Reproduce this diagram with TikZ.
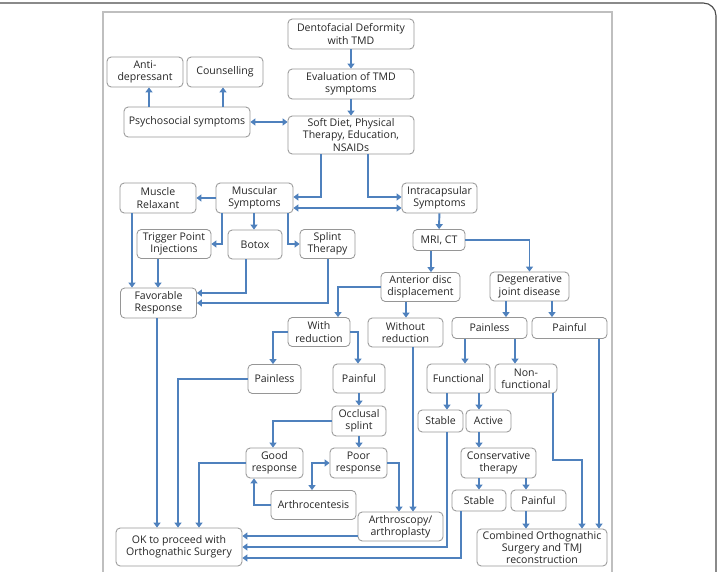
\documentclass[tikz,border=0pt]{standalone}
\usepackage{fontspec}
\setmainfont{Open Sans}
\usetikzlibrary{arrows.meta}
\definecolor{flow}{RGB}{79,129,189}
\definecolor{boxline}{RGB}{150,150,150}

\begin{document}
\begin{tikzpicture}[x=0.025cm,y=-0.025cm,
	box/.style={draw=boxline,line width=0.6pt,rounded corners=3pt,align=center,inner sep=1pt,font=\fontsize{7.5}{8.8}\selectfont,text=black!85},
	bx/.style 2 args={box,minimum width=#1*0.025cm,minimum height=#2*0.025cm},
	arr/.style={draw=flow,line width=1.4pt,-{Triangle[length=3.5pt,width=5pt]}},
	arrs/.style={draw=flow,line width=1.4pt,{Triangle[length=3.5pt,width=5pt]}-{Triangle[length=3.5pt,width=5pt]}}]
	\useasboundingbox (0,0) rectangle (718,572);
	% frame
	\draw[black!70,line width=0.8pt,rounded corners=9pt] (0,3) -- (716,3) -- (716,574);
	\draw[black!25,line width=1pt] (103,574) -- (103,12) -- (612,12) -- (612,574);
	% boxes
	\node[bx={126}{30}] (DFD) at (351,34) {Dentofacial Deformity\\with TMD};
	\node[bx={76}{30}] (AntiD) at (145,72) {Anti-\\depressant};
	\node[bx={76}{30}] (Couns) at (225,72) {Counselling};
	\node[bx={126}{30}] (Eval) at (351,84) {Evaluation of TMD\\symptoms};
	\node[bx={126}{30}] (Psy) at (187,122) {Psychosocial symptoms};
	\node[bx={126}{38}] (Soft) at (351,135) {Soft Diet, Physical\\Therapy, Education,\\NSAIDs};
	\node[bx={76}{30}] (MusR) at (158,198) {Muscle\\Relaxant};
	\node[bx={77}{30}] (MusS) at (254.5,198) {Muscular\\Symptoms};
	\node[bx={75}{30}] (Intra) at (439.5,198) {Intracapsular\\Symptoms};
	\node[bx={74}{29}] (TPI) at (174,244) {Trigger Point\\Injections};
	\node[bx={54}{29}] (Btx) at (255,244.5) {Botox};
	\node[bx={55}{29}] (Splt) at (327.5,244) {Splint\\Therapy};
	\node[bx={52}{21}] (MRI) at (439,240) {MRI, CT};
	\node[bx={76}{30}] (Fav) at (158.5,303) {Favorable\\Response};
	\node[bx={79}{29}] (ADD) at (420.5,287) {Anterior disc\\displacement};
	\node[bx={79}{29}] (DJD) at (529.5,286.5) {Degenerative\\joint disease};
	\node[bx={62}{29}] (WiR) at (319,332) {With\\reduction};
	\node[bx={75}{29}] (WoR) at (405.5,332.5) {Without\\reduction};
	\node[bx={75}{21}] (PlsD) at (489.5,328) {Painless};
	\node[bx={75}{21}] (PflD) at (569.5,328) {Painful};
	\node[bx={53}{29}] (PlsA) at (274.5,379) {Painless};
	\node[bx={52}{29}] (PflA) at (359,378.5) {Painful};
	\node[bx={63}{29}] (Func) at (458.5,378.5) {Functional};
	\node[bx={62}{29}] (NonF) at (526,378.5) {Non-\\functional};
	\node[bx={54}{30}] (Occl) at (359,421) {Occlusal\\splint};
	\node[bx={45}{22}] (StbA) at (440.5,421) {Stable};
	\node[bx={45}{22}] (Actv) at (488.5,421) {Active};
	\node[bx={57}{30}] (Good) at (274.5,463) {Good\\response};
	\node[bx={57}{30}] (Poor) at (358.5,463) {Poor\\response};
	\node[bx={75}{30}] (Cons) at (498.5,463) {Conservative\\therapy};
	\node[bx={85}{29}] (Acen) at (313.5,505) {Arthrocentesis};
	\node[bx={54}{21}] (StbB) at (479,500.5) {Stable};
	\node[bx={55}{21}] (PflB) at (538.5,500.5) {Painful};
	\node[bx={85}{29}] (Ascp) at (400.5,526.5) {Arthroscopy/\\arthroplasty};
	\node[bx={126}{38}] (OK) at (179,547) {OK to proceed with\\Orthognathic Surgery};
	\node[bx={130}{37}] (Comb) at (542,547.5) {Combined Orthognathic\\Surgery and TMJ\\reconstruction};
	% top part
	\draw[arr] (DFD) -- (Eval);
	\draw[arr] (Eval) -- (Soft);
	\draw[arrs] (Psy.east) -- (Psy.east -| Soft.west);
	\draw[arr] (Psy.north -| 149,0) -- (AntiD.south -| 149,0);
	\draw[arr] (Psy.north -| 223,0) -- (Couns.south -| 223,0);
	\draw[arr] (Soft.south -| 321,0) |- (MusS.east |- 0,197);
	\draw[arr] (Soft.south -| 368,0) |- (Intra.west |- 0,197);
	% muscular branch
	\draw[arr] (MusS.west) -- (MusR.east);
	\draw[arrs] (MusS.east |- 0,208) -- (Intra.west |- 0,208);
	\draw[arr] (MusS.south -| 222,0) |- (TPI.east);
	\draw[arr] (MusS.south -| 254,0) -- (Btx.north -| 254,0);
	\draw[arr] (MusS.south -| 288,0) |- (Splt.west);
	\draw[arr] (MusR.south -| 132,0) -- (Fav.north -| 132,0);
	\draw[arr] (TPI.south -| 158,0) -- (Fav.north -| 158,0);
	\draw[arr] (Btx.south -| 246,0) |- (Fav.east |- 0,293);
	\draw[arr] (Splt.south -| 328,0) |- (Fav.east);
	\draw[arr] (Fav.south -| 157,0) -- (OK.north -| 157,0);
	% intracapsular branch
	\draw[arr] (Intra) -- (MRI);
	\draw[arr] (MRI.south -| 431,0) -- (ADD.north -| 431,0);
	\draw[arr] (MRI.east) -| (DJD.north);
	\draw[arr] (ADD.west) -| (WiR.north -| 338,0);
	\draw[arr] (ADD.south -| 406,0) -- (WoR.north -| 406,0);
	\draw[arr] (WiR.west) -| (PlsA.north -| 273,0);
	\draw[arr] (WiR.east) -| (PflA.north -| 358,0);
	\draw[arr] (PlsA.west) -| (OK.north -| 178,0);
	\draw[arr] (PflA) -- (Occl);
	\draw[arr] (Occl.west) -| (Good.north -| 273,0);
	\draw[arr] (Occl) -- (Poor.north -| Occl);
	\draw[arr] (Good.west) -| (OK.north -| 199,0);
	\draw[arrs] (Poor.west) -| (Acen.north -| 312,0);
	\draw[arr] (Acen.west) -| (Good.south -| 254,0);
	\draw[arr] (Poor.east) -| (Ascp.north -| 399,0);
	\draw[arr] (WoR.south -| 413,0) -- (Ascp.north -| 413,0);
	\draw[arr] (Ascp.west |- 0,536) -- (OK.east |- 0,536);
	% degenerative branch
	\draw[arr] (DJD.south -| 506,0) -- (PlsD.north -| 506,0);
	\draw[arr] (DJD.south -| 552,0) -- (PflD.north -| 552,0);
	\draw[arr] (PlsD.south -| 465,0) -- (Func.north -| 465,0);
	\draw[arr] (PlsD.south -| 515,0) -- (NonF.north -| 515,0);
	\draw[arr] (PflD.south -| 599,0) -- (Comb.north -| 599,0);
	\draw[arr] (Func.south -| 447,0) -- (StbA.north -| 447,0);
	\draw[arr] (Func.south -| 479,0) -- (Actv.north -| 479,0);
	\draw[arr] (Actv.south -| 479,0) -- (Cons.north -| 479,0);
	\draw[arr] (Cons.south -| 479,0) -- (StbB.north -| 479,0);
	\draw[arr] (Cons.south -| 526,0) -- (PflB.north -| 526,0);
	\draw[arr] (PflB.south -| 526,0) -- (Comb.north -| 526,0);
	\draw[arr] (NonF.south -| 553,0) -- (553,460) -| (Comb.north -| 582,0);
	\draw[arr] (StbA.south -| 447,0) |- (OK.east);
	\draw[arr] (StbB.south -| 461,0) |- (OK.east |- 0,558);
\end{tikzpicture}
\end{document}
